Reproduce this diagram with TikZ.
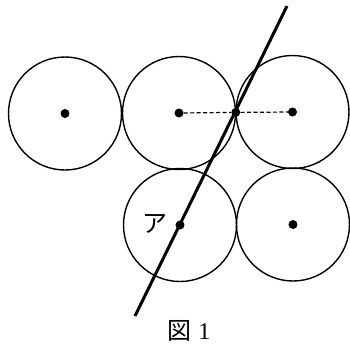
\documentclass[tikz,border=0pt]{standalone}
\usepackage{fontspec}
\newfontfamily\jpfont{Noto Sans CJK JP}
\setmainfont{Liberation Serif}
\begin{document}
\begin{tikzpicture}[x=1pt,y=-1pt,
  ball/.style={circle,draw,line width=1.4pt,minimum size=113pt,inner sep=0pt},
  centerdot/.style={circle,fill,inner sep=0pt,minimum size=9pt},
  axisline/.style={line width=3pt},
  guide/.style={line width=1.2pt,dash pattern=on 4pt off 2.5pt}]
\useasboundingbox (0,0) rectangle (350,360);
\node[ball] (c1) at (65,113.5) {};
\node[ball] (c2) at (179,113) {};
\node[ball] (c3) at (292.5,112) {};
\node[ball] (c4) at (180,225) {};
\node[ball] (c5) at (293,224.5) {};
\node[centerdot] (d1) at (c1.center) {};
\node[centerdot] (d2) at (c2.center) {};
\node[centerdot] (d3) at (c3.center) {};
\node[centerdot] (d4) at (c4.center) {};
\node[centerdot] (d5) at (c5.center) {};
\node[centerdot] (p) at (235.8,112.4) {};
\draw[guide] (d2) -- (p) -- (d3);
\coordinate (top) at (287,6);
\coordinate (bot) at (135,316);
\draw[axisline] (top) -- (bot);
\node[font=\jpfont\fontsize{25}{25}\selectfont] (a) at (155,224) {ア};
\node[font=\fontsize{24}{24}\selectfont] (cap) at (189,331) {{\jpfont 図}\hspace{7pt}1};
\end{tikzpicture}
\end{document}
